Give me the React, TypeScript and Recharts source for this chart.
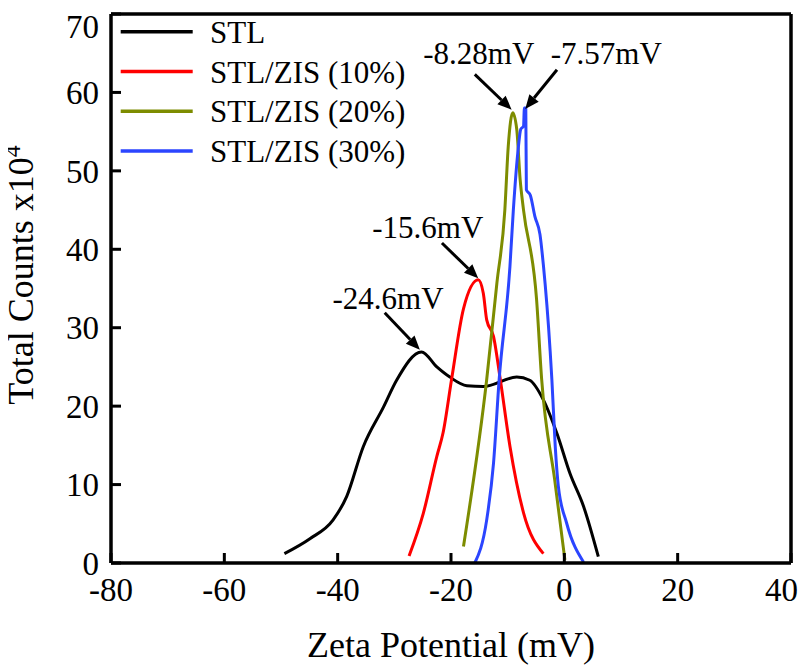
import { LineChart, Line, XAxis, YAxis, ReferenceLine, ReferenceDot, Legend } from 'recharts';

const FONT = '"Liberation Serif", "Times New Roman", serif';

// series: zeta potential (mV) vs total counts (x10^4)
const stlX = [-49.4, -44.9, -40.8, -38.4, -35.5, -31.9, -29.6, -25.2, -22.5, -20.2, -17.2, -14.3, -8.4, -6.1, -3.7, -1.3, 1.0, 3.4, 6.0];
const stlY = [1.2, 3.1, 5.5, 8.5, 14.8, 19.9, 23.3, 26.9, 25.0, 23.7, 22.6, 22.5, 23.7, 23.3, 20.8, 16.5, 11.4, 7.2, 0.8];

const zis10X = [-27.4, -24.9, -22.5, -21.4, -19.9, -17.8, -15.2, -14.3, -13.7, -12.5, -11.3, -9.6, -7.2, -3.7];
const zis10Y = [0.9, 6.3, 13.6, 16.6, 23.4, 32.4, 36.1, 34.4, 31.0, 28.9, 23.4, 14.9, 6.4, 1.2];

const zis20X = [-17.8, -13.7, -11.9, -10.5, -9.9, -9.1, -8.4, -7.8, -7.2, -4.9, -4.0, -1.7, 0.1];
const zis20Y = [2.1, 23.4, 35.7, 45.0, 53.1, 57.4, 55.3, 48.9, 45.0, 33.6, 23.4, 10.6, 0.4];

const zis30X = [-15.8, -13.7, -12.5, -11.5, -9.6, -9.0, -8.1, -7.7, -7.2, -7.05, -6.8, -6.7, -6.0, -5.2, -4.3, -3.7, -2.5, -2.2, -1.6, -1.06, 0.4, 3.4];
const zis30Y = [0.0, 5.5, 12.7, 23.4, 37.8, 45.0, 53.1, 55.3, 55.7, 58.0, 58.0, 47.6, 46.9, 44.2, 41.9, 38.0, 27.0, 23.4, 14.8, 9.8, 5.1, 0.1];

const seriesNames = ['STL', 'STL/ZIS (10%)', 'STL/ZIS (20%)', 'STL/ZIS (30%)'];
const seriesColors = ['#000000', '#ff0000', '#7d8c00', '#2b45ff'];

const xTicks = [-80, -60, -40, -20, 0, 20, 40];
const yTicks = [0, 10, 20, 30, 40, 50, 60, 70];

// peak annotations
const annoText = ['-24.6mV', '-15.6mV', '-8.28mV', '-7.57mV'];
const annoTextX = [-31.1, -24.1, -15.1, 7.4];
const annoTextY = [33.8, 42.9, 65.0, 65.0];
const arrowFromX = [-31.7, -21.6, -15.8, -1.3];
const arrowFromY = [31.9, 40.8, 62.3, 62.9];
const arrowToX = [-25.5, -15.2, -9.3, -6.9];
const arrowToY = [27.2, 36.3, 57.8, 57.9];

const toPoints = (xs: number[], ys: number[]) => xs.map((x, i) => ({ x, y: ys[i] }));
const series = [toPoints(stlX, stlY), toPoints(zis10X, zis10Y), toPoints(zis20X, zis20Y), toPoints(zis30X, zis30Y)];

const CHART_W = 799;
const CHART_H = 658;

const Arrow = (props: any) => {
  const { x1, y1, x2, y2 } = props;
  const ang = Math.atan2(y2 - y1, x2 - x1);
  const len = 14;
  const half = 6;
  const bx = x2 - len * Math.cos(ang);
  const by = y2 - len * Math.sin(ang);
  const px = -Math.sin(ang) * half;
  const py = Math.cos(ang) * half;
  return (
    <g>
      <line x1={x1} y1={y1} x2={bx} y2={by} stroke="#000" strokeWidth={3} />
      <polygon points={`${x2},${y2} ${bx + px},${by + py} ${bx - px},${by - py}`} fill="#000" />
    </g>
  );
};

// last label would run past the page edge, so pull it in
const XTick = (props: any) => {
  const { x, y, payload } = props;
  const last = payload.value === xTicks[xTicks.length - 1];
  return (
    <text
      x={last ? CHART_W - 9 : x}
      y={y}
      dy="0.71em"
      textAnchor={last ? 'end' : 'middle'}
      fontSize={33}
      fontFamily={FONT}
      fill="#000"
    >
      {payload.value}
    </text>
  );
};

const LegendBox = () => (
  <svg width={320} height={160} style={{ display: 'block' }}>
    {seriesNames.map((name, i) => {
      const y = 17.7 + i * 39.8;
      return (
        <g key={name}>
          <line x1={12.7} x2={84.7} y1={y} y2={y} stroke={seriesColors[i]} strokeWidth={3.5} />
          <text x={102} y={y + 11} fontSize={31} fontFamily={FONT} fill="#000">{name}</text>
        </g>
      );
    })}
  </svg>
);

const XTitle = (props: any) => {
  const { viewBox } = props;
  return (
    <text x={viewBox.x + viewBox.width / 2} y={649} textAnchor="middle" fontSize={36} fontFamily={FONT} fill="#000">
      Zeta Potential (mV)
    </text>
  );
};

const YTitle = () => (
  <text x={25} y={267} transform="rotate(-90, 25, 267)" textAnchor="middle" fontSize={36} fontFamily={FONT} fill="#000">
    Total Counts x10<tspan dy={-13} fontSize={24}>4</tspan>
  </text>
);

export default function App() {
  const tickStyle = { fill: '#000', fontSize: 33, fontFamily: FONT };
  return (
    <LineChart width={CHART_W} height={CHART_H} margin={{ top: 6, right: 16, left: 0, bottom: 0 }}>
      <XAxis
        type="number"
        dataKey="x"
        domain={[-80, 40]}
        ticks={xTicks}
        allowDataOverflow
        height={103}
        tickSize={-10}
        tickMargin={25}
        tick={<XTick />}
        axisLine={{ stroke: '#000', strokeWidth: 3.5 }}
        tickLine={{ stroke: '#000', strokeWidth: 3 }}
        label={{ content: <XTitle /> }}
      />
      <YAxis
        type="number"
        dataKey="y"
        domain={[0, 70]}
        ticks={yTicks}
        allowDataOverflow
        width={103}
        tickSize={-10}
        tickMargin={22}
        tick={tickStyle}
        axisLine={{ stroke: '#000', strokeWidth: 3.5 }}
        tickLine={{ stroke: '#000', strokeWidth: 3 }}
        label={{ content: <YTitle /> }}
      />
      <ReferenceLine y={70} stroke="#000" strokeWidth={3.5} />
      <ReferenceLine x={40} stroke="#000" strokeWidth={3.5} />
      {series.map((pts, i) => (
        <Line
          key={seriesNames[i]}
          data={pts}
          dataKey="y"
          name={seriesNames[i]}
          type="monotone"
          stroke={seriesColors[i]}
          strokeWidth={3}
          dot={false}
          activeDot={false}
          isAnimationActive={false}
        />
      ))}
      {annoText.map((t, i) => (
        <ReferenceLine
          key={'arrow' + t}
          segment={[{ x: arrowFromX[i], y: arrowFromY[i] }, { x: arrowToX[i], y: arrowToY[i] }]}
          shape={<Arrow />}
        />
      ))}
      {annoText.map((t, i) => (
        <ReferenceDot
          key={'text' + t}
          x={annoTextX[i]}
          y={annoTextY[i]}
          r={0}
          fill="none"
          stroke="none"
          label={{ value: t, position: 'center', fontSize: 31, fontFamily: FONT, fill: '#000' }}
        />
      ))}
      <Legend
        layout="vertical"
        align="center"
        verticalAlign="middle"
        wrapperStyle={{ left: 100, top: 6, width: 320 }}
        content={<LegendBox />}
      />
    </LineChart>
  );
}
